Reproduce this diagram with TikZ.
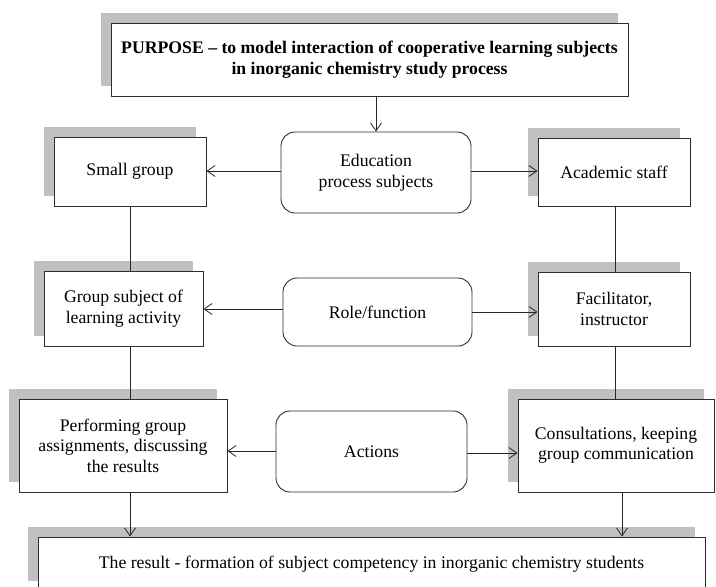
\documentclass[tikz,border=0pt]{standalone}
\usepackage{fontspec}
\setmainfont{Liberation Serif}
\usetikzlibrary{arrows.meta,shadows,calc}
\definecolor{shade}{HTML}{C0C0C0}
\definecolor{edge}{HTML}{2E2E2E}
\newcommand{\labelsize}{\fontsize{17.7}{20.5}\selectfont}
\begin{document}
\begin{tikzpicture}[x=1pt,y=-1pt,
  every node/.style={font=\labelsize, align=center, inner sep=0pt},
  box/.style={draw=edge, line width=0.9pt, fill=white,
    drop shadow={shadow xshift=-10pt, shadow yshift=10pt, fill=shade, opacity=1}},
  pill/.style={draw=edge, line width=0.9pt, fill=white, rounded corners=14pt},
  link/.style={draw=black!85, line width=0.8pt},
  arrow/.style={link, -{Straight Barb[length=8pt,width=11pt]}}]
\useasboundingbox (0,0) rectangle (716,587);
\clip (0,0) rectangle (716,587);

% top: purpose of the model
\node[box, minimum width=517pt, minimum height=73pt, font=\labelsize\bfseries]
  (purpose) at (369.5,59.5)
  {PURPOSE -- to model interaction of cooperative learning subjects\\in inorganic chemistry study process};

% first row
\node[box, minimum width=152pt, minimum height=69pt] (small) at (130,171.5) {Small group};
\node[pill, minimum width=190pt, minimum height=81pt] (edu) at (376,172.5) {Education\\process subjects};
\node[box, minimum width=152pt, minimum height=68pt] (acad) at (614,172) {Academic staff};

% second row
\node[box, minimum width=159pt, minimum height=75pt] (gs) at (123.5,308.5) {Group subject of\\learning activity};
\node[pill, minimum width=189pt, minimum height=68pt] (role) at (377.5,312) {Role/function};
\node[box, minimum width=152pt, minimum height=74pt] (fac) at (614,309) {Facilitator,\\instructor};

% third row
\node[box, minimum width=208pt, minimum height=93pt] (perf) at (123,445.5) {Performing group\\assignments, discussing\\the results};
\node[pill, minimum width=191pt, minimum height=81pt] (act) at (371.5,451.5) {Actions};
\node[box, minimum width=196pt, minimum height=93pt] (cons) at (616,445.5) {Consultations, keeping\\group communication};

% result
\node[box, minimum width=667pt, minimum height=54pt] (result) at (371.5,564)
  {The result - formation of subject competency in inorganic chemistry students};

% attachment points of the connectors
\coordinate (eduL) at ($(edu.west)+(0,-1.5)$);
\coordinate (eduR) at ($(edu.east)+(0,-1.5)$);
\coordinate (roleL) at ($(role.west)+(0,-3)$);
\coordinate (roleR) at (role.east);
\coordinate (actL) at ($(act.west)+(0,-0.5)$);
\coordinate (actR) at ($(act.east)+(0,1.5)$);
\coordinate (leftX) at (small.south);
\coordinate (rightX) at ($(acad.south)+(1,0)$);
\coordinate (consX) at ($(cons.south)+(6,0)$);

% connectors
\draw[arrow] (purpose.south -| edu.north) -- (edu.north);
\draw[arrow] (eduL) -- (eduL -| small.east);
\draw[arrow] (eduR) -- (eduR -| acad.west);

\draw[arrow] (roleL) -- (roleL -| gs.east);
\draw[arrow] (roleR) -- (roleR -| fac.west);

\draw[arrow] (actL) -- (actL -| perf.east);
\draw[arrow] (actR) -- (actR -| cons.west);

\draw[link] (leftX) -- (leftX |- gs.north);
\draw[link] (leftX |- gs.south) -- (leftX |- perf.north);
\draw[arrow] (leftX |- perf.south) -- (leftX |- result.north);

\draw[link] (rightX) -- (rightX |- fac.north);
\draw[link] (rightX |- fac.south) -- (rightX |- cons.north);
\draw[arrow] (consX) -- (consX |- result.north);
\end{tikzpicture}
\end{document}
